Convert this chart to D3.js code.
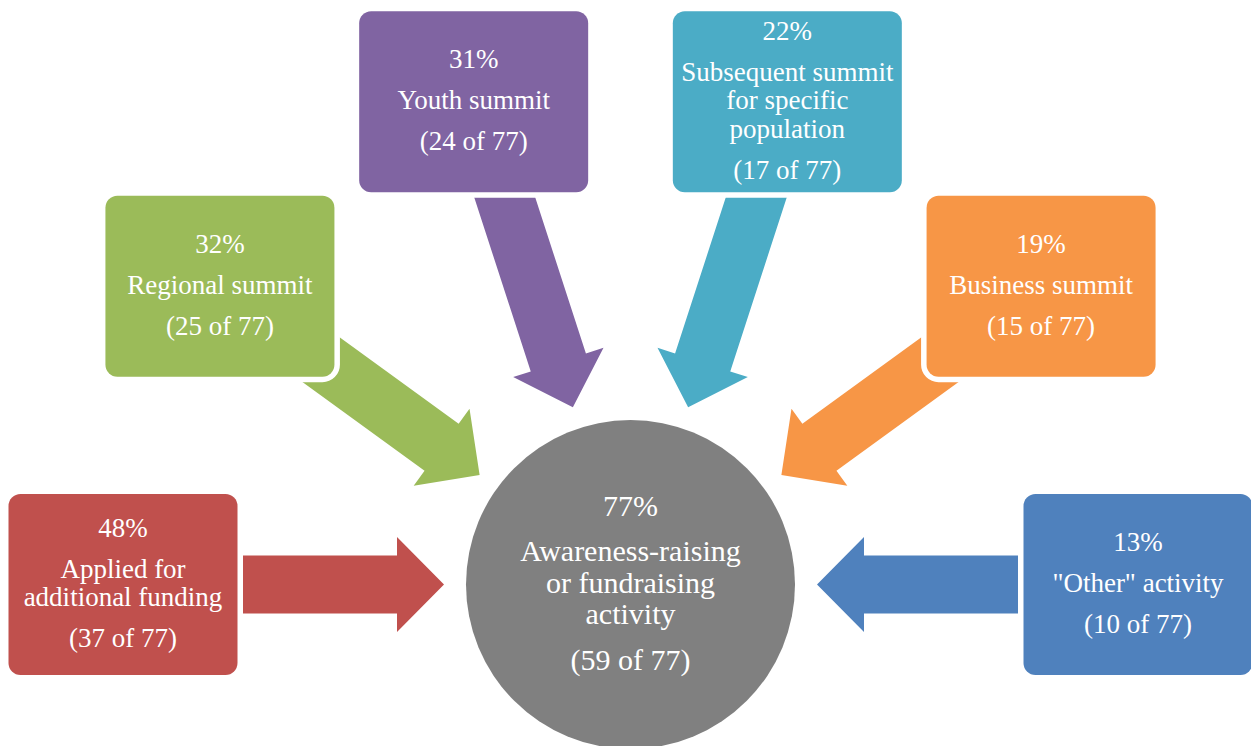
<!DOCTYPE html>
<html>
<head>
<meta charset="utf-8">
<script src="https://cdn.jsdelivr.net/npm/d3@7"></script>
<style>
  html, body { margin: 0; padding: 0; background: #ffffff; }
  svg { display: block; }
</style>
</head>
<body>
<svg id="chart" width="1251" height="746"></svg>
<script>
// Survey outcomes feeding into the central awareness/fundraising activity
const total = 77;

const categoryLines = [
  ["Applied for", "additional funding"],
  ["Regional summit"],
  ["Youth summit"],
  ["Subsequent summit", "for specific", "population"],
  ["Business summit"],
  ["\"Other\" activity"]
];
const categoryCounts = [37, 25, 24, 17, 15, 10];
const categoryColors = ["#C0504D", "#9BBB59", "#8064A2", "#4BACC6", "#F79646", "#4F81BD"];

const hubLines = ["Awareness-raising", "or fundraising", "activity"];
const hubCount = 59;
const hubColor = "#808080";

// Layout
const width = 1251, height = 746;
const cx = 630.5, cy = 584.5;
const hubR = 164.5;
const boxRadius = 507.5;          // distance of box centres from hub centre
const boxW = 229, boxH = 181, boxCorner = 12;
const tipRadius = 186.5;          // arrow tips
const tailRadius = 430;           // arrow tails (tucked under boxes)
const headLen = 47, headHalf = 47.5, shaftHalf = 29;

const angle = d3.scaleLinear()
  .domain([0, categoryCounts.length - 1])
  .range([Math.PI, 2 * Math.PI]);

const pct = c => Math.round(c / total * 100) + "%";

const items = categoryCounts.map((count, i) => ({
  lines: categoryLines[i],
  count,
  color: categoryColors[i],
  theta: angle(i)
}));

const svg = d3.select("#chart");

// Map (radial distance s, perpendicular offset p) to screen coordinates
function polar(theta, s, p) {
  const c = Math.cos(theta), sn = Math.sin(theta);
  return [cx + s * c - p * sn, cy + s * sn + p * c];
}

function arrowPoints(theta) {
  const pts = [
    [tipRadius, 0],
    [tipRadius + headLen, headHalf],
    [tipRadius + headLen, shaftHalf],
    [tailRadius, shaftHalf],
    [tailRadius, -shaftHalf],
    [tipRadius + headLen, -shaftHalf],
    [tipRadius + headLen, -headHalf]
  ];
  return pts.map(([s, p]) => polar(theta, s, p));
}

const line = d3.line();

// Arrows
svg.append("g").selectAll("path")
  .data(items)
  .join("path")
  .attr("d", d => line(arrowPoints(d.theta)) + "Z")
  .attr("fill", d => d.color);

// Text block helper: paragraphs of lines, vertically centred on (x, y)
const fontFamily = "'Liberation Serif', 'Times New Roman', serif";
function textBlock(g, x, y, paragraphs, fs) {
  const lineH = 1.05 * fs, paraStep = 1.52 * fs;
  const baselines = [];
  let pos = 0;
  paragraphs.forEach((para, pi) => {
    para.forEach((t, li) => {
      if (pi > 0 || li > 0) pos += (li === 0 ? paraStep : lineH);
      baselines.push({ t, pos });
    });
  });
  const span = baselines[baselines.length - 1].pos;
  const first = y - span / 2 + 0.28 * fs;
  g.selectAll("text.lbl")
    .data(baselines)
    .join("text")
    .attr("class", "lbl")
    .attr("x", x)
    .attr("y", d => first + d.pos)
    .attr("text-anchor", "middle")
    .attr("fill", "#ffffff")
    .attr("font-family", fontFamily)
    .attr("font-size", fs)
    .text(d => d.t);
}

// Boxes
const boxes = svg.append("g").selectAll("g")
  .data(items)
  .join("g")
  .attr("transform", d => {
    const [x, y] = polar(d.theta, boxRadius, 0);
    return `translate(${x},${y})`;
  });

boxes.append("rect")
  .attr("x", -boxW / 2)
  .attr("y", -boxH / 2)
  .attr("width", boxW)
  .attr("height", boxH)
  .attr("rx", boxCorner)
  .attr("fill", d => d.color)
  .attr("stroke", "#ffffff")
  .attr("stroke-width", 11)
  .attr("paint-order", "stroke");

boxes.each(function (d) {
  textBlock(d3.select(this), 0, 0,
    [[pct(d.count)], d.lines, [`(${d.count} of ${total})`]], 27);
});

// Hub circle
const hub = svg.append("g");
hub.append("circle")
  .attr("cx", cx)
  .attr("cy", cy)
  .attr("r", hubR)
  .attr("fill", hubColor);
textBlock(hub, cx, cy,
  [[pct(hubCount)], hubLines, [`(${hubCount} of  ${total})`]], 30);
</script>
</body>
</html>
